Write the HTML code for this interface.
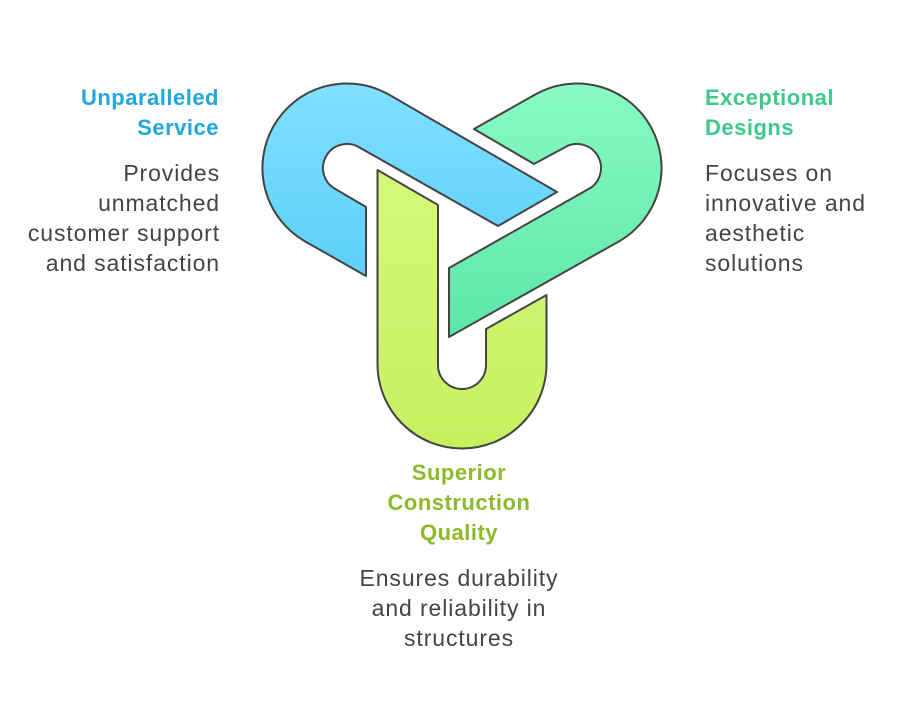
<!DOCTYPE html>
<html><head><style>
body{margin:0;width:907px;height:702px;background:#fff;position:relative;overflow:hidden;font-family:"Liberation Sans",sans-serif}
.t{position:absolute;font-size:23px;line-height:30px;color:#444;letter-spacing:0.9px;white-space:nowrap}
.h{font-size:22px;font-weight:bold;letter-spacing:0.5px}
</style></head><body>
<svg width="907" height="702" style="position:absolute;left:0;top:0">
<defs>
<linearGradient id="gb" x1="0" y1="0" x2="0" y2="1"><stop offset="0" stop-color="#80e0ff"/><stop offset="1" stop-color="#5ccffb"/></linearGradient>
<linearGradient id="gt" x1="0" y1="0" x2="0" y2="1"><stop offset="0" stop-color="#88fbc2"/><stop offset="1" stop-color="#5de6a8"/></linearGradient>
<linearGradient id="gg" x1="0" y1="0" x2="0" y2="1"><stop offset="0" stop-color="#d5f97a"/><stop offset="1" stop-color="#c6f060"/></linearGradient>
</defs>
<g stroke="#444" stroke-width="2" stroke-linejoin="round">
<path fill="url(#gb)" d="M366,276 L304.75,241.2 A84.5,84.5 0 1 1 389.25,94.8 L557,192 L498,226 L359,147.2 A24,24 0 1 0 335,188.8 L366,207 Z"/>
<path fill="url(#gt)" d="M449,337 L449,268 L589,188.8 A24,24 0 1 0 565,147.2 L534,164 L474,129 L534.75,94.8 A84.5,84.5 0 1 1 619.25,241.2 Z"/>
<path fill="url(#gg)" d="M377.5,170 L438,205 L438,365 A24,24 0 0 0 486,365 L486,329 L546.5,295 L546.5,364 A84.5,84.5 0 0 1 377.5,364 Z"/>
</g>
</svg>
<div class="t h" style="right:688px;top:83px;text-align:right;color:#1fa8da">Unparalleled<br>Service</div>
<div class="t" style="right:687px;top:158px;text-align:right">Provides<br>unmatched<br>customer support<br>and satisfaction</div>
<div class="t h" style="left:705px;top:83px;color:#3cc98a">Exceptional<br>Designs</div>
<div class="t" style="left:705px;top:158px">Focuses on<br>innovative and<br>aesthetic<br>solutions</div>
<div class="t h" style="left:309px;width:300px;top:458px;text-align:center;color:#8dba2b">Superior<br>Construction<br>Quality</div>
<div class="t" style="left:309px;width:300px;top:563px;text-align:center">Ensures durability<br>and reliability in<br>structures</div>
</body></html>
